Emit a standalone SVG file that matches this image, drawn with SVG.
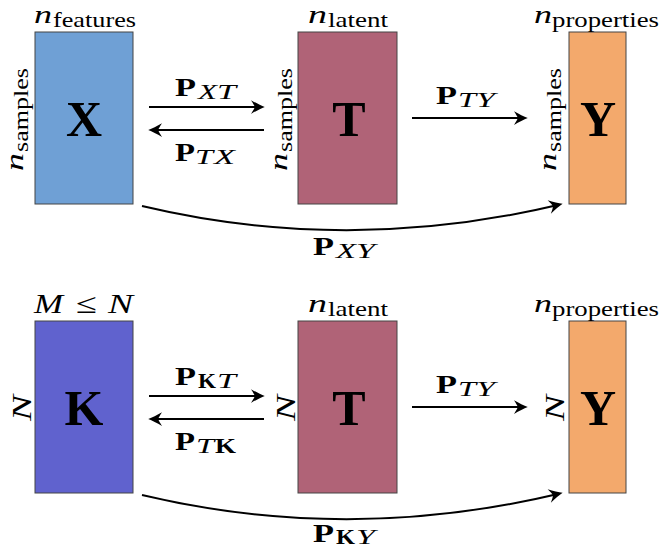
<svg xmlns="http://www.w3.org/2000/svg" width="663" height="548" viewBox="0 0 663 548">
<style>
text{font-family:"Liberation Serif","Times New Roman",Times,serif;fill:#000}
.it{font-style:italic}
.rm{font-style:normal}
.big{font-size:50px;font-weight:bold;text-anchor:middle}
.n{font-size:25px}
.sub{font-size:22px}
.cap{font-size:28px}
.P{font-size:26px;font-weight:bold}
.ps{font-size:22px;font-style:italic}
.pk{font-size:20px;font-weight:bold;font-style:normal}
.box{stroke:#444;stroke-width:1}
.arr{stroke:#000;stroke-width:2;fill:none;marker-end:url(#ah)}
</style>
<defs>
<marker id="ah" markerUnits="userSpaceOnUse" orient="auto" refX="-3" refY="0" markerWidth="20" markerHeight="20" viewBox="-14 -8 16 16" overflow="visible">
<path d="M0,0 C-3,-1.2 -7,-3.2 -11,-5.5 C-9.2,-2.6 -8.3,-1.4 -8,0 C-8.3,1.4 -9.2,2.6 -11,5.5 C-7,3.2 -3,1.2 0,0 Z" fill="#000"/>
</marker>
</defs>

<g id="node-X">
<rect class="box" x="35" y="32" width="98" height="172" fill="#6FA0D5"/>
<text class="big" x="84" y="136">X</text>
<text class="it n" x="34" y="23" textLength="18" lengthAdjust="spacingAndGlyphs">n</text>
<text class="rm sub" x="53" y="27" textLength="83" lengthAdjust="spacingAndGlyphs">features</text>
<g transform="translate(23,171) rotate(-90)">
<text class="it n" x="0" y="0" textLength="18" lengthAdjust="spacingAndGlyphs">n</text>
<text class="rm sub" x="19" y="5" textLength="84" lengthAdjust="spacingAndGlyphs">samples</text>
</g>
</g>

<g id="node-T1">
<rect class="box" x="298" y="32" width="99" height="172" fill="#B06377"/>
<text class="big" x="349" y="136">T</text>
<text class="it n" x="308" y="23" textLength="19" lengthAdjust="spacingAndGlyphs">n</text>
<text class="rm sub" x="328" y="27" textLength="60" lengthAdjust="spacingAndGlyphs">latent</text>
<g transform="translate(287,171) rotate(-90)">
<text class="it n" x="0" y="0" textLength="18" lengthAdjust="spacingAndGlyphs">n</text>
<text class="rm sub" x="19" y="5" textLength="84" lengthAdjust="spacingAndGlyphs">samples</text>
</g>
</g>

<g id="node-Y1">
<rect class="box" x="569" y="32" width="57" height="172" fill="#F3A96C"/>
<text class="big" x="598" y="136">Y</text>
<text class="it n" x="534" y="23" textLength="18" lengthAdjust="spacingAndGlyphs">n</text>
<text class="rm sub" x="552" y="27" textLength="107" lengthAdjust="spacingAndGlyphs">properties</text>
<g transform="translate(556,171) rotate(-90)">
<text class="it n" x="0" y="0" textLength="18" lengthAdjust="spacingAndGlyphs">n</text>
<text class="rm sub" x="19" y="5" textLength="84" lengthAdjust="spacingAndGlyphs">samples</text>
</g>
</g>

<g id="node-K">
<rect class="box" x="35" y="321" width="98" height="172" fill="#6062CE"/>
<text class="big" x="84" y="425">K</text>
<text class="it cap" x="34" y="313" textLength="29" lengthAdjust="spacingAndGlyphs">M</text>
<text class="rm cap" x="76" y="313" textLength="21" lengthAdjust="spacingAndGlyphs">≤</text>
<text class="it cap" x="108" y="313" textLength="25" lengthAdjust="spacingAndGlyphs">N</text>
<g transform="translate(31,421) rotate(-90)">
<text class="it cap" x="0" y="0" textLength="26" lengthAdjust="spacingAndGlyphs">N</text>
</g>
</g>

<g id="node-T2">
<rect class="box" x="298" y="321" width="99" height="172" fill="#B06377"/>
<text class="big" x="349" y="425">T</text>
<text class="it n" x="308" y="312" textLength="19" lengthAdjust="spacingAndGlyphs">n</text>
<text class="rm sub" x="328" y="316" textLength="60" lengthAdjust="spacingAndGlyphs">latent</text>
<g transform="translate(295,421) rotate(-90)">
<text class="it cap" x="0" y="0" textLength="26" lengthAdjust="spacingAndGlyphs">N</text>
</g>
</g>

<g id="node-Y2">
<rect class="box" x="569" y="321" width="57" height="172" fill="#F3A96C"/>
<text class="big" x="598" y="425">Y</text>
<text class="it n" x="534" y="312" textLength="18" lengthAdjust="spacingAndGlyphs">n</text>
<text class="rm sub" x="552" y="316" textLength="107" lengthAdjust="spacingAndGlyphs">properties</text>
<g transform="translate(564,421) rotate(-90)">
<text class="it cap" x="0" y="0" textLength="26" lengthAdjust="spacingAndGlyphs">N</text>
</g>
</g>

<g id="connectors">
<path class="arr" d="M149,107 L261,107"/>
<path class="arr" d="M264,130 L152,130"/>
<path class="arr" d="M412,118 L524,118"/>
<path class="arr" d="M142,206 Q348,255 559,204.7"/>
<path class="arr" d="M149,396 L261,396"/>
<path class="arr" d="M264,419 L152,419"/>
<path class="arr" d="M412,407 L524,407"/>
<path class="arr" d="M142,495 Q348,544 559,493.7"/>

<g id="label-PXT">
<text class="P" x="175" y="96" textLength="21" lengthAdjust="spacingAndGlyphs">P</text>
<text class="ps" x="198" y="99" textLength="19" lengthAdjust="spacingAndGlyphs">X</text>
<text class="ps" x="217" y="99" textLength="19" lengthAdjust="spacingAndGlyphs">T</text>
</g>
<g id="label-PTX">
<text class="P" x="175" y="161" textLength="20" lengthAdjust="spacingAndGlyphs">P</text>
<text class="ps" x="195" y="164" textLength="18" lengthAdjust="spacingAndGlyphs">T</text>
<text class="ps" x="214" y="164" textLength="21" lengthAdjust="spacingAndGlyphs">X</text>
</g>
<g id="label-PTY1">
<text class="P" x="436" y="104" textLength="21" lengthAdjust="spacingAndGlyphs">P</text>
<text class="ps" x="458" y="107" textLength="18" lengthAdjust="spacingAndGlyphs">T</text>
<text class="ps" x="476" y="107" textLength="19" lengthAdjust="spacingAndGlyphs">Y</text>
</g>
<g id="label-PXY">
<text class="P" x="313" y="255" textLength="21" lengthAdjust="spacingAndGlyphs">P</text>
<text class="ps" x="336" y="258" textLength="20" lengthAdjust="spacingAndGlyphs">X</text>
<text class="ps" x="356" y="258" textLength="19" lengthAdjust="spacingAndGlyphs">Y</text>
</g>
<g id="label-PKT">
<text class="P" x="175" y="385" textLength="21" lengthAdjust="spacingAndGlyphs">P</text>
<text class="pk" x="198" y="388" textLength="18" lengthAdjust="spacingAndGlyphs">K</text>
<text class="ps" x="217" y="388" textLength="19" lengthAdjust="spacingAndGlyphs">T</text>
</g>
<g id="label-PTK">
<text class="P" x="175" y="450" textLength="20" lengthAdjust="spacingAndGlyphs">P</text>
<text class="ps" x="196" y="453" textLength="18" lengthAdjust="spacingAndGlyphs">T</text>
<text class="pk" x="215" y="453" textLength="21" lengthAdjust="spacingAndGlyphs">K</text>
</g>
<g id="label-PTY2">
<text class="P" x="436" y="393" textLength="21" lengthAdjust="spacingAndGlyphs">P</text>
<text class="ps" x="458" y="396" textLength="18" lengthAdjust="spacingAndGlyphs">T</text>
<text class="ps" x="476" y="396" textLength="19" lengthAdjust="spacingAndGlyphs">Y</text>
</g>
<g id="label-PKY">
<text class="P" x="313" y="542" textLength="21" lengthAdjust="spacingAndGlyphs">P</text>
<text class="pk" x="336" y="544" textLength="19" lengthAdjust="spacingAndGlyphs">K</text>
<text class="ps" x="356" y="544" textLength="19" lengthAdjust="spacingAndGlyphs">Y</text>
</g>
</g>
</svg>
